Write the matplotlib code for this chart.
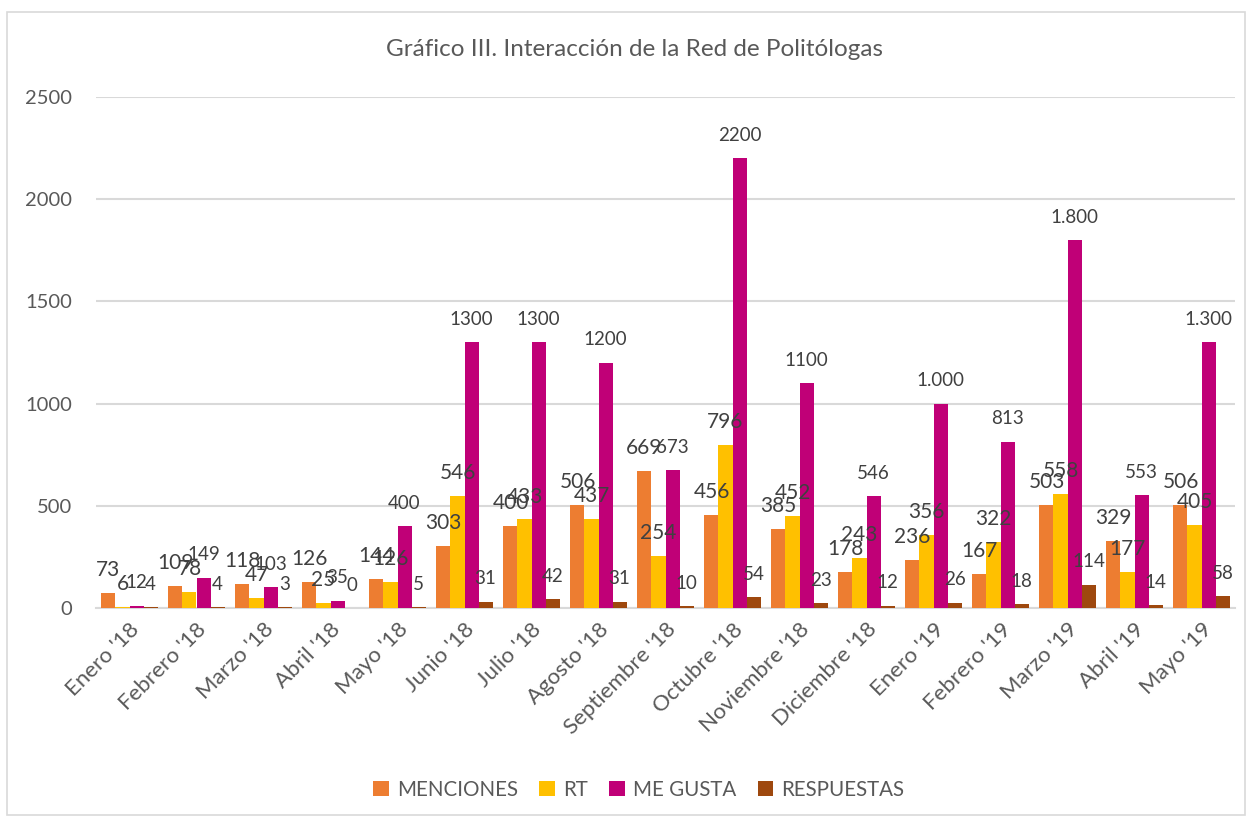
import numpy as np
import matplotlib
matplotlib.use('Agg')
import matplotlib.pyplot as plt
from matplotlib.patches import Rectangle

plt.rcParams['font.family'] = ['Lato', 'DejaVu Sans']

# Datos
meses = ["Enero '18", "Febrero '18", "Marzo '18", "Abril '18", "Mayo '18",
         "Junio '18", "Julio '18", "Agosto '18", "Septiembre '18", "Octubre '18",
         "Noviembre '18", "Diciembre '18", "Enero '19", "Febrero '19",
         "Marzo '19", "Abril '19", "Mayo '19"]
menciones = [73, 109, 118, 126, 144, 303, 400, 506, 669, 456, 385, 178, 236, 167, 503, 329, 506]
rt = [6, 78, 47, 25, 126, 546, 433, 437, 254, 796, 452, 243, 356, 322, 558, 177, 405]
me_gusta = [12, 149, 103, 35, 400, 1300, 1300, 1200, 673, 2200, 1100, 546, 1000, 813, 1800, 553, 1300]
respuestas = [4, 4, 3, 0, 5, 31, 42, 31, 10, 54, 23, 12, 26, 18, 114, 14, 58]
# en 2019 las etiquetas de ME GUSTA llevan separador de miles
me_gusta_txt = ['12', '149', '103', '35', '400', '1300', '1300', '1200', '673', '2200',
                '1100', '546', '1.000', '813', '1.800', '553', '1.300']

series = [
    ('MENCIONES', menciones, [str(v) for v in menciones], '#ED7D31', 15),
    ('RT', rt, [str(v) for v in rt], '#FFC000', 15),
    ('ME GUSTA', me_gusta, me_gusta_txt, '#C00077', 13.5),
    ('RESPUESTAS', respuestas, [str(v) for v in respuestas], '#9E480E', 13.5),
]

gris = '#595959'
fig = plt.figure(figsize=(12.5, 8.18), dpi=100)
ax = fig.add_axes([96/1250, 1 - 608/818, (1235 - 96)/1250, (608 - 97)/818])

x = np.arange(len(meses))
w = 0.209
for i, (nombre, vals, txts, color, fs) in enumerate(series):
    pos = x + (i - 1.5) * w
    ax.bar(pos, vals, width=w, color=color, label=nombre, zorder=3)
    for xi, v, t in zip(pos, vals, txts):
        ax.annotate(t, (xi, v), xytext=(0, 16.5), textcoords='offset points',
                    ha='center', va='center', fontsize=fs, color='#404040', zorder=4)

ax.set_xlim(-0.5, len(meses) - 0.5)
ax.set_ylim(0, 2500)
ax.set_yticks([0, 500, 1000, 1500, 2000, 2500])
ax.yaxis.grid(True, color='#D9D9D9', linewidth=1.5, zorder=0)
ax.set_axisbelow(True)
for s in ['top', 'right', 'left']:
    ax.spines[s].set_visible(False)
ax.spines['bottom'].set_color('#D9D9D9')
ax.spines['bottom'].set_linewidth(1.5)
ax.tick_params(axis='both', length=0, colors=gris, labelsize=14.5)
ax.tick_params(axis='y', pad=17)
ax.set_xticks(x)
ax.set_xticklabels(meses, rotation=45, ha='right', rotation_mode='anchor', fontsize=16)
ax.tick_params(axis='x', pad=8)

fig.text(0.508, 1 - 50/818, 'Gráfico III. Interacción de la Red de Politólogas',
         ha='center', va='center', fontsize=17.5, color=gris)

fig.legend(loc='center', bbox_to_anchor=(0.511, 1 - 790/818), ncol=4, frameon=False,
           fontsize=14.8, handlelength=0.75, handleheight=0.75, handletextpad=0.4,
           columnspacing=1.05, labelcolor=gris)

# marco del gráfico
fig.patches.append(Rectangle((7/1250, 1 - 815/818), 1238/1250, 803/818,
                             transform=fig.transFigure, fill=False,
                             edgecolor='#D9D9D9', linewidth=1.2))

fig.savefig('out.png', dpi=100)
